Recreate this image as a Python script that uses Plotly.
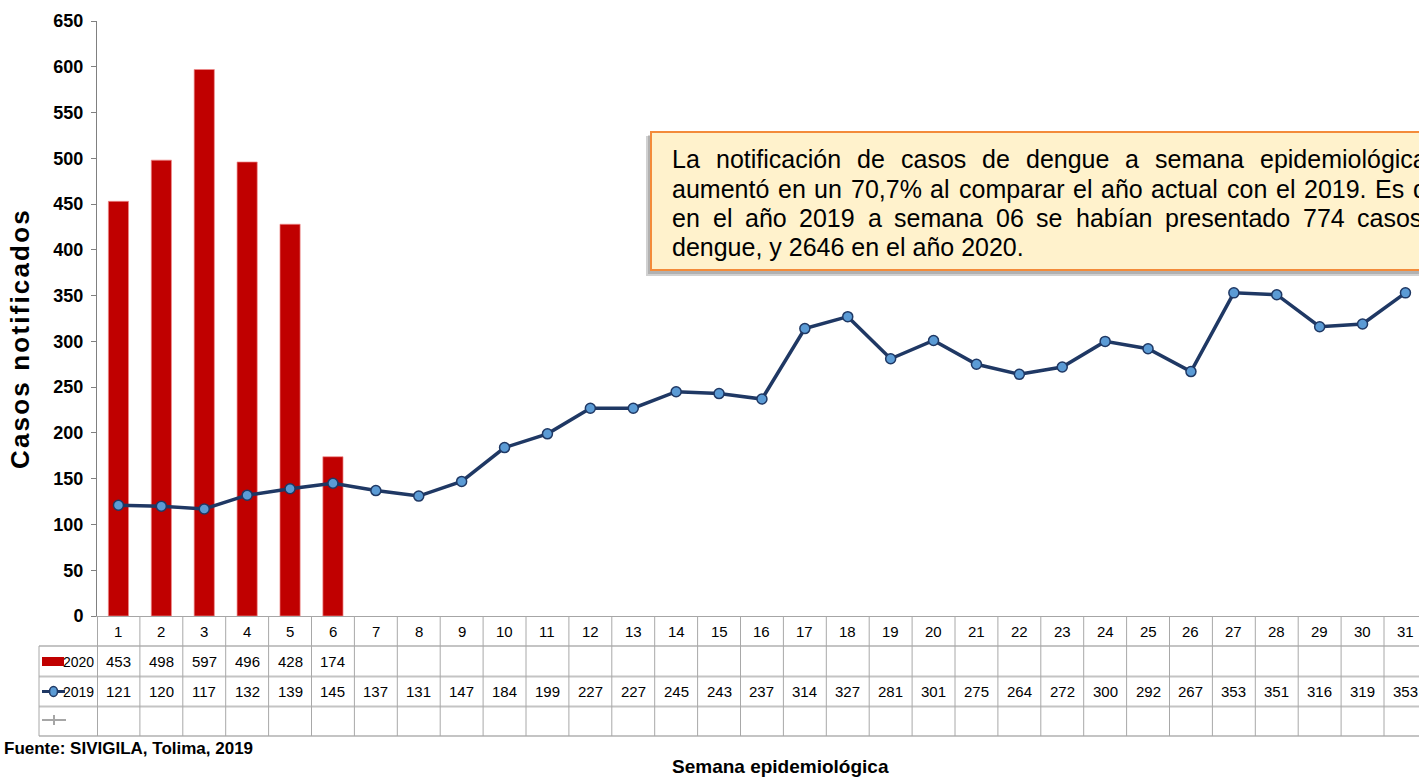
import plotly.graph_objects as go

# ---------------- data ----------------
weeks = list(range(1, 32))
weeks_2020 = [1, 2, 3, 4, 5, 6]
cases_2020 = [453, 498, 597, 496, 428, 174]
cases_2019 = [121, 120, 117, 132, 139, 145, 137, 131, 147, 184, 199, 227, 227,
              245, 243, 237, 314, 327, 281, 301, 275, 264, 272, 300, 292, 267,
              353, 351, 316, 319, 353]
y_ticks = list(range(0, 651, 50))
series_labels = ["2020", "2019"]

box_lines = [
    "La notificación de casos de dengue a semana epidemiológica",
    "aumentó en un 70,7% al comparar el año actual con el 2019. Es d",
    "en el año 2019 a semana 06 se habían presentado 774 casos",
    "dengue, y 2646 en el año 2020.",
]

# ---------------- layout helpers ----------------
W, H = 1419, 781
ML, MR, MT, MB = 97, 0, 21, 165
PW, PH = W - ML - MR, H - MT - MB
COL = 42.9
x_max = 0.5 + PW / COL

NARROW = "Liberation Sans Narrow, Arial Narrow, Liberation Sans, Arial, sans-serif"
SANS = "Liberation Sans, Arial, sans-serif"


def px(x):
    return (x - ML) / PW


def py(y):
    return (H - MB - y) / PH


# Arial-compatible advance widths (per 1000 em) for justification
CW = {" ": 278, "a": 556, "b": 556, "c": 500, "d": 556, "e": 556, "f": 278,
      "g": 556, "h": 556, "i": 222, "í": 278, "l": 222, "m": 833, "n": 556,
      "ñ": 556, "o": 556, "ó": 556, "p": 556, "r": 333, "s": 500, "t": 278,
      "u": 556, "y": 500, "L": 556, "E": 667, ",": 278, ".": 278, "%": 889}


def tw(word, size):
    return sum(CW.get(ch, 556) for ch in word) * size / 1000.0


fig = go.Figure()
fig.add_trace(go.Bar(
    x=weeks_2020, y=cases_2020, width=0.47, name="2020",
    marker=dict(color="#C00000", line=dict(color="rgba(240,140,140,0.7)", width=1)),
    showlegend=False,
))
fig.add_trace(go.Scatter(
    x=weeks, y=cases_2019, mode="lines+markers", name="2019",
    line=dict(color="#1F3864", width=3.5),
    marker=dict(size=10, color="#5B9BD5", line=dict(color="#1F3864", width=1.5)),
    cliponaxis=False, showlegend=False,
))

shapes = []
annotations = []
GRID_H = "#C4C4C4"
GRID_V = "#A8A8A8"

# table horizontal lines
for yy in [646, 676.5, 706.5, 736]:
    shapes.append(dict(type="line", xref="paper", yref="paper",
                       x0=px(39), x1=1.0, y0=py(yy), y1=py(yy),
                       line=dict(color=GRID_H, width=2)))
# table vertical lines
for k in range(1, 32):
    xv = k + 0.5
    if xv <= x_max:
        shapes.append(dict(type="line", xref="x", yref="paper",
                           x0=xv, x1=xv, y0=py(616), y1=py(736),
                           line=dict(color=GRID_V, width=1)))
shapes.append(dict(type="line", xref="paper", yref="paper", x0=px(97.5), x1=px(97.5),
                   y0=py(616), y1=py(736), line=dict(color=GRID_V, width=1)))
shapes.append(dict(type="line", xref="paper", yref="paper", x0=px(39), x1=px(39),
                   y0=py(646), y1=py(736), line=dict(color=GRID_V, width=1)))

# legend keys in table
shapes.append(dict(type="rect", xref="paper", yref="paper", x0=px(42), x1=px(64),
                   y0=py(666), y1=py(657), fillcolor="#C00000", line=dict(width=0)))
shapes.append(dict(type="line", xref="paper", yref="paper", x0=px(42), x1=px(65),
                   y0=py(691.5), y1=py(691.5), line=dict(color="#1F3864", width=3)))
shapes.append(dict(type="circle", xref="paper", yref="paper", x0=px(49.5), x1=px(57.5),
                   y0=py(696.5), y1=py(686.5), fillcolor="#5B9BD5",
                   line=dict(color="#1F3864", width=1.5)))
shapes.append(dict(type="line", xref="paper", yref="paper", x0=px(42), x1=px(66),
                   y0=py(720), y1=py(720), line=dict(color="#A6A6A6", width=2)))
shapes.append(dict(type="line", xref="paper", yref="paper", x0=px(54), x1=px(54),
                   y0=py(715), y1=py(725), line=dict(color="#A6A6A6", width=2)))

for lab, yy in zip(series_labels, [661.5, 691.5]):
    annotations.append(dict(text=lab, xref="paper", yref="paper", x=px(96), y=py(yy),
                            xanchor="right", yanchor="middle", showarrow=False,
                            font=dict(family=NARROW, size=14, color="#000")))

# table values
TF = dict(family=NARROW, size=15, color="#000")
for w in weeks:
    annotations.append(dict(text=str(w), xref="x", yref="paper", x=w, y=py(631),
                            showarrow=False, yanchor="middle", font=TF))
for w, v in zip(weeks_2020, cases_2020):
    annotations.append(dict(text=str(v), xref="x", yref="paper", x=w, y=py(661.5),
                            showarrow=False, yanchor="middle", font=TF))
for w, v in zip(weeks, cases_2019):
    annotations.append(dict(text=str(v), xref="x", yref="paper", x=w, y=py(691.5),
                            showarrow=False, yanchor="middle", font=TF))

# text box with shadow
shapes.append(dict(type="rect", xref="paper", yref="paper", x0=px(646), x1=px(1440),
                   y0=py(276), y1=py(136), fillcolor="rgba(0,0,0,0.18)", line=dict(width=0)))
shapes.append(dict(type="rect", xref="paper", yref="paper", x0=px(648), x1=px(1440),
                   y0=py(274), y1=py(135), fillcolor="rgba(0,0,0,0.15)", line=dict(width=0)))
shapes.append(dict(type="rect", xref="paper", yref="paper", x0=px(651), x1=px(1440),
                   y0=py(270), y1=py(132), fillcolor="#FFF2CC",
                   line=dict(color="#F38B3A", width=2)))

BS = 25
BF = dict(family=SANS, size=BS, color="#000")
line_y = [159, 188.5, 218, 247]
last_start = [1259, 1412, 1356, None]
for text, yy, ls in zip(box_lines, line_y, last_start):
    if ls is None:
        annotations.append(dict(text=text, xref="paper", yref="paper", x=px(670), y=py(yy),
                                xanchor="left", yanchor="middle", showarrow=False, font=BF))
        continue
    words = text.split(" ")
    widths = [tw(wd, BS) for wd in words]
    gap = (ls - 671 - sum(widths[:-1])) / (len(words) - 1)
    xcur = 671
    for wd, wdt in zip(words, widths):
        annotations.append(dict(text=wd, xref="paper", yref="paper", x=px(xcur - 1), y=py(yy),
                                xanchor="left", yanchor="middle", showarrow=False, font=BF))
        xcur += wdt + gap

# titles
ytitle = "\u200a".join("Casos notificados")
annotations.append(dict(text=ytitle,
                        xref="paper", yref="paper", x=px(20), y=py(340),
                        textangle=-90, showarrow=False, xanchor="center", yanchor="middle",
                        font=dict(family=SANS, size=26, color="#000", weight="bold")))
annotations.append(dict(text="Semana epidemiológica", xref="paper", yref="paper",
                        x=px(780), y=py(766), showarrow=False, xanchor="center",
                        yanchor="middle",
                        font=dict(family=NARROW, size=19, color="#000", weight="bold")))
annotations.append(dict(text="Fuente: SIVIGILA, Tolima, 2019", xref="paper", yref="paper",
                        x=px(2), y=py(748), showarrow=False, xanchor="left",
                        yanchor="middle",
                        font=dict(family=NARROW, size=17, color="#000", weight="bold")))

fig.update_layout(
    width=W, height=H,
    margin=dict(l=ML, r=MR, t=MT, b=MB, pad=0),
    paper_bgcolor="white", plot_bgcolor="white",
    bargap=0.5,
    xaxis=dict(range=[0.5, x_max], showticklabels=False, showgrid=False, zeroline=False,
               showline=True, linecolor="#A6A6A6", linewidth=1, ticks=""),
    yaxis=dict(range=[0, 650], tickvals=y_ticks, ticks="outside", ticklen=5,
               tickcolor="#808080", showline=True, linecolor="#808080", linewidth=1,
               showgrid=False, zeroline=False, ticklabelstandoff=4,
               tickfont=dict(family=NARROW, size=18, color="#000", weight="bold")),
    shapes=shapes,
    annotations=annotations,
)

fig.write_html("out.html", config={"displayModeBar": False},
               post_script="document.body.style.margin='0';document.body.style.overflow='hidden';")
